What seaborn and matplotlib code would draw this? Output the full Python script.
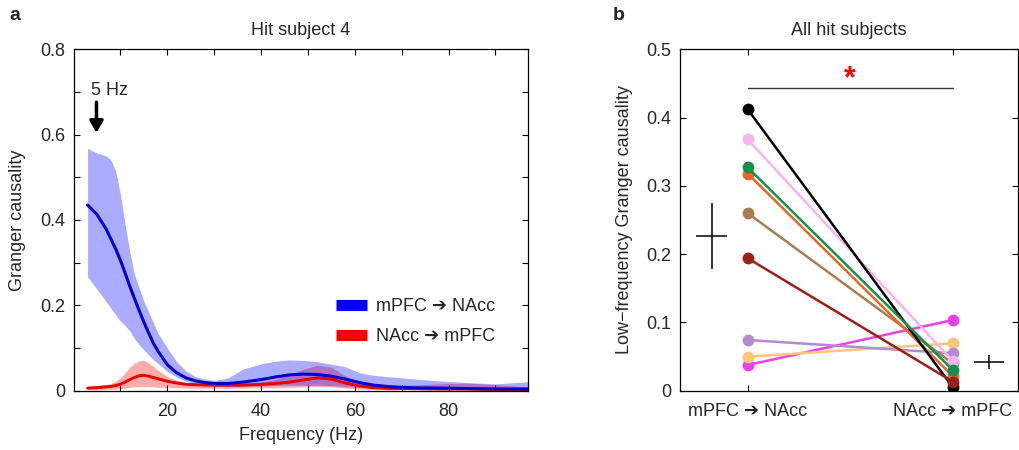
import numpy as np
import pandas as pd
import matplotlib
matplotlib.use("Agg")
import matplotlib.pyplot as plt
import seaborn as sns
from matplotlib.lines import Line2D

# ---------------- data: panel a (Hit subject 4) ----------------
freq_hz = [3, 5, 7, 8, 9, 10, 11, 12, 13, 14, 15, 16, 17, 18, 20, 22, 24, 26, 28, 30,
           33, 36, 40, 43, 46, 49, 52, 55, 58, 61, 64, 68, 72, 78, 84, 90, 97]
mpfc_nacc_mean = [0.435, 0.413, 0.378, 0.355, 0.332, 0.306, 0.276, 0.245, 0.216, 0.188,
                  0.161, 0.136, 0.112, 0.093, 0.061, 0.042, 0.030, 0.023, 0.019, 0.017,
                  0.017, 0.020, 0.026, 0.032, 0.037, 0.039, 0.038, 0.034, 0.027, 0.019,
                  0.013, 0.009, 0.007, 0.006, 0.005, 0.004, 0.004]
mpfc_nacc_upper = [0.568, 0.557, 0.550, 0.540, 0.515, 0.460, 0.390, 0.325, 0.272, 0.240,
                   0.210, 0.185, 0.160, 0.135, 0.100, 0.068, 0.046, 0.033, 0.027, 0.024,
                   0.030, 0.050, 0.063, 0.069, 0.072, 0.071, 0.068, 0.062, 0.056, 0.042,
                   0.036, 0.032, 0.028, 0.023, 0.019, 0.016, 0.021]
mpfc_nacc_lower = [0.267, 0.238, 0.208, 0.193, 0.178, 0.163, 0.153, 0.140, 0.122, 0.108,
                   0.096, 0.084, 0.073, 0.064, 0.045, 0.032, 0.022, 0.016, 0.013, 0.011,
                   0.010, 0.010, 0.011, 0.012, 0.013, 0.013, 0.013, 0.012, 0.010, 0.008,
                   0.006, 0.005, 0.004, 0.003, 0.003, 0.002, 0.001]
nacc_mpfc_mean = [0.006, 0.007, 0.009, 0.010, 0.012, 0.015, 0.020, 0.026, 0.031, 0.035,
                  0.036, 0.034, 0.031, 0.028, 0.022, 0.018, 0.015, 0.014, 0.013, 0.013,
                  0.013, 0.013, 0.015, 0.017, 0.020, 0.025, 0.030, 0.027, 0.018, 0.011,
                  0.007, 0.005, 0.005, 0.004, 0.004, 0.003, 0.003]
nacc_mpfc_upper = [0.012, 0.013, 0.015, 0.017, 0.022, 0.030, 0.042, 0.055, 0.064, 0.070,
                   0.071, 0.066, 0.057, 0.048, 0.033, 0.025, 0.019, 0.017, 0.016, 0.016,
                   0.016, 0.017, 0.020, 0.026, 0.038, 0.050, 0.060, 0.055, 0.035, 0.020,
                   0.014, 0.012, 0.013, 0.016, 0.018, 0.014, 0.009]
nacc_mpfc_lower = [0.002, 0.002, 0.003, 0.003, 0.004, 0.005, 0.006, 0.008, 0.009, 0.010,
                   0.010, 0.010, 0.009, 0.008, 0.008, 0.007, 0.006, 0.006, 0.006, 0.006,
                   0.006, 0.006, 0.007, 0.007, 0.008, 0.009, 0.010, 0.009, 0.006, 0.004,
                   0.003, 0.002, 0.002, 0.002, 0.002, 0.001, 0.001]

# ---------------- data: panel b (All hit subjects) ----------------
conditions = ["mPFC ➔ NAcc", "NAcc ➔ mPFC"]
subjects = ["magenta", "light orange", "lavender", "brown", "pink",
            "orange", "black", "green", "dark red"]
subject_colors = ["#ee3fe6", "#fbc57c", "#b48ad0", "#a77d55", "#f8b4f2",
                  "#e9652c", "#000000", "#14904a", "#9c2018"]
gc_mpfc_to_nacc = [0.0376, 0.0498, 0.0743, 0.260, 0.368, 0.318, 0.412, 0.327, 0.194]
gc_nacc_to_mpfc = [0.1035, 0.0694, 0.0548, 0.040, 0.0435, 0.0215, 0.005, 0.0303, 0.0132]

# ---------------- style ----------------
sns.set_style("ticks", {"xtick.direction": "in", "ytick.direction": "in",
                        "axes.edgecolor": "black"})
plt.rcParams["font.family"] = ["Liberation Sans", "DejaVu Sans"]
FS = 13

W, H = 1019, 450
fig = plt.figure(figsize=(W / 100, H / 100), dpi=100)
axA = fig.add_axes([73.5 / W, 59.3 / H, 454.8 / W, 341.4 / H])
axB = fig.add_axes([680 / W, 59.3 / H, 338 / W, 341.4 / H])

# ---------------- panel a ----------------
axA.fill_between(freq_hz, nacc_mpfc_lower, nacc_mpfc_upper, color=(1, 0, 0), alpha=0.33, lw=0)
sns.lineplot(x=freq_hz, y=nacc_mpfc_mean, color="#e60000", lw=2.1, ax=axA)
axA.fill_between(freq_hz, mpfc_nacc_lower, mpfc_nacc_upper, color=(0, 0, 1), alpha=0.33, lw=0)
sns.lineplot(x=freq_hz, y=mpfc_nacc_mean, color="#0000cc", lw=2.2, ax=axA)

axA.set_xlim(0, 97)
axA.set_ylim(0, 0.8)
axA.set_xticks(np.arange(10, 91, 10))
axA.set_xticklabels([str(v) if v % 20 == 0 else "" for v in range(10, 91, 10)])
yt = np.round(np.arange(0, 0.81, 0.1), 1)
axA.set_yticks(yt)
axA.set_yticklabels(["0" if v == 0 else (f"{v:.1f}" if round(v * 10) % 2 == 0 else "") for v in yt])
axA.set_xlabel("Frequency (Hz)", fontsize=FS)
axA.set_ylabel("Granger causality", fontsize=FS)
axA.xaxis.set_label_coords(0.5, -0.13)
axA.xaxis.label.set_va("center")
axA.yaxis.set_label_coords(-0.124, 0.5)
axA.yaxis.label.set_va("center")
axA.set_title("Hit subject 4", fontsize=FS, pad=10)

axA.text(3.8, 0.704, "5 Hz", fontsize=FS, ha="left", va="center")
axA.annotate("", xy=(4.9, 0.604), xytext=(4.9, 0.676),
             arrowprops=dict(arrowstyle="-|>,head_length=0.7,head_width=0.4",
                             lw=2.5, color="black", shrinkA=0, shrinkB=0))

handles = [Line2D([0], [0], color=(0, 0, 0.95), lw=8, solid_capstyle="butt"),
           Line2D([0], [0], color=(0.95, 0, 0), lw=8, solid_capstyle="butt")]
axA.legend(handles, ["mPFC ➔ NAcc", "NAcc ➔ mPFC"], loc="upper left",
           bbox_to_anchor=(0.578, 0.272), frameon=False, fontsize=FS,
           handlelength=1.7, handletextpad=0.5, labelspacing=0.75,
           borderpad=0, borderaxespad=0)

# ---------------- panel b ----------------
rows = []
for s, a, b in zip(subjects, gc_mpfc_to_nacc, gc_nacc_to_mpfc):
    rows.append({"subject": s, "pos": 1, "gc": a})
    rows.append({"subject": s, "pos": 2, "gc": b})
df = pd.DataFrame(rows)
sns.lineplot(data=df, x="pos", y="gc", hue="subject", hue_order=subjects,
             palette=dict(zip(subjects, subject_colors)), marker="o", markersize=8.5,
             markeredgewidth=0, lw=1.8, legend=False, estimator=None, ax=axB)

for vals, xc in [(gc_mpfc_to_nacc, 0.824), (gc_nacc_to_mpfc, 2.177)]:
    v = np.asarray(vals)
    m = v.mean()
    sem = v.std(ddof=1) / np.sqrt(len(v))
    axB.errorbar(xc, m, yerr=sem, xerr=0.075, color="black", lw=1.1, capsize=0)

axB.plot([1, 2], [0.443, 0.443], color="#333333", lw=1.0)
axB.text(1.5, 0.456, "*", color="red", fontsize=22, ha="center", va="center", fontweight="bold")

axB.set_xlim(0.67, 2.318)
axB.set_ylim(0, 0.5)
axB.set_xticks([1, 2])
axB.set_xticklabels(conditions)
ybt = np.round(np.arange(0, 0.51, 0.1), 1)
axB.set_yticks(ybt)
axB.set_yticklabels(["0" if v == 0 else f"{v:.1f}" for v in ybt])
axB.set_xlabel("")
axB.set_ylabel("Low−frequency Granger causality", fontsize=FS)
axB.yaxis.set_label_coords(-0.163, 0.5)
axB.yaxis.label.set_va("center")
axB.set_title("All hit subjects", fontsize=FS, pad=10)

for ax in (axA, axB):
    ax.tick_params(direction="in", top=True, right=True, length=4, width=0.8,
                   labelsize=FS, pad=6, color="black")
    ax.tick_params(axis="x", pad=9)
    for sp in ax.spines.values():
        sp.set_visible(True)
        sp.set_linewidth(0.9)
        sp.set_color("black")

fig.text(15 / W, 1 - 16 / H, "a", fontsize=14, fontweight="bold", ha="center", va="center")
fig.text(619 / W, 1 - 15 / H, "b", fontsize=14, fontweight="bold", ha="center", va="center")

fig.savefig("out.png", dpi=100)
